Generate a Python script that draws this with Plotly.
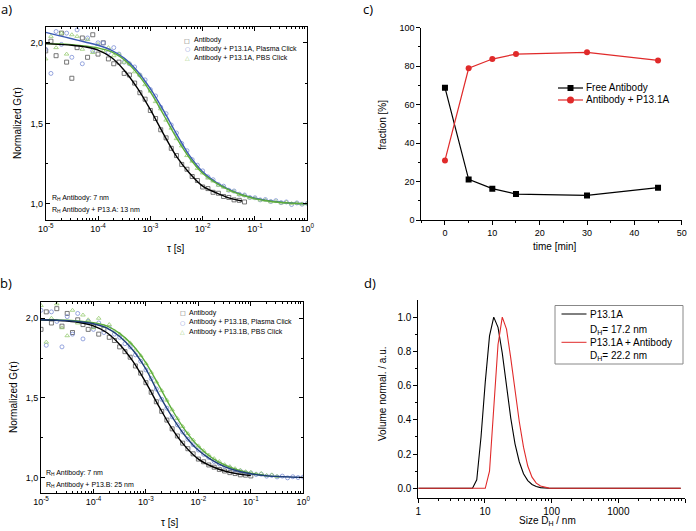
import plotly.graph_objects as go

W, H = 696, 531


def px(x):
    return x / W


def py(y):
    return 1 - y / H


# ---- FCS data (panels a and b) ----
# lag times of the measured points, 10 per decade
TAU_PTS = [
    1.00e-5, 1.26e-5, 1.58e-5, 2.00e-5, 2.51e-5, 3.16e-5, 3.98e-5, 5.01e-5, 6.31e-5, 7.94e-5,
    1.00e-4, 1.26e-4, 1.58e-4, 2.00e-4, 2.51e-4, 3.16e-4, 3.98e-4, 5.01e-4, 6.31e-4, 7.94e-4,
    1.00e-3, 1.26e-3, 1.58e-3, 2.00e-3, 2.51e-3, 3.16e-3, 3.98e-3, 5.01e-3, 6.31e-3, 7.94e-3,
    1.00e-2, 1.26e-2, 1.58e-2, 2.00e-2, 2.51e-2, 3.16e-2, 3.98e-2, 5.01e-2, 6.31e-2, 7.94e-2,
    1.00e-1, 1.26e-1, 1.58e-1, 2.00e-1, 2.51e-1, 3.16e-1, 3.98e-1, 5.01e-1, 6.31e-1, 7.94e-1,
    1.00,
]
# lag times of the fit curves
TAU_FIT = [
    1.00e-5, 1.78e-5, 3.16e-5, 5.62e-5,
    1.00e-4, 1.78e-4, 3.16e-4, 5.62e-4,
    1.00e-3, 1.78e-3, 3.16e-3, 5.62e-3,
    1.00e-2, 1.78e-2, 3.16e-2, 5.62e-2,
    1.00e-1, 1.78e-1, 3.16e-1, 5.62e-1,
    1.00,
]

PTS_A_ANTIBODY = [
    1.95, 2.01, 1.92, 2.06, 1.88, 1.78, 1.97, 2.03, 1.91, 2.05,
    1.93, 2.00, 1.90, 1.87, 1.88, 1.81, 1.80, 1.75, 1.69, 1.65,
    1.58, 1.53, 1.46, 1.41, 1.345, 1.30, 1.245, 1.215, 1.17, 1.145,
    1.105, 1.095, 1.072, 1.066, 1.046, 1.04, 1.025, 1.022, 1.012,
]
PTS_A_PLASMA = [
    1.96, 1.81, 2.07, 1.99, 2.06, 1.91, 2.08, 1.87, 2.03, 1.95,
    2.00, 2.00, 1.94, 1.97, 1.93, 1.88, 1.87, 1.85, 1.80, 1.77,
    1.71, 1.67, 1.60, 1.56, 1.49, 1.44, 1.375, 1.33, 1.275, 1.24,
    1.205, 1.168, 1.15, 1.12, 1.11, 1.085, 1.08, 1.06, 1.055, 1.04,
    1.038, 1.025, 1.027, 1.015, 1.02, 1.008, 1.012, 0.996, 1.006, 0.998,
    1.003,
]
PTS_A_PBS = [
    1.90, 2.04, 1.97, 2.06, 1.93, 2.05, 2.04, 1.96, 2.02, 1.94,
    1.99, 1.95, 1.97, 1.92, 1.93, 1.88, 1.87, 1.82, 1.80, 1.74,
    1.70, 1.635, 1.59, 1.52, 1.47, 1.405, 1.36, 1.30, 1.265, 1.22,
    1.192, 1.16, 1.142, 1.116, 1.104, 1.083, 1.076, 1.058, 1.052, 1.038,
    1.035, 1.024, 1.023, 1.013, 1.015, 1.006, 1.01, 1.002, 1.005, 0.999,
    1.002,
]
FIT_A_ANTIBODY = [1.995, 1.99, 1.985, 1.975, 1.955, 1.91, 1.83, 1.72, 1.585, 1.435,
                  1.295, 1.19, 1.11, 1.07, 1.037, 1.018]
FIT_A_PLASMA = [2.065, 2.045, 2.025, 2.005, 1.985, 1.955, 1.905, 1.825, 1.715, 1.58,
                1.435, 1.30, 1.20, 1.135, 1.09, 1.057, 1.035, 1.02, 1.01, 1.004, 1.0]
FIT_A_PBS = [1.995, 1.993, 1.988, 1.98, 1.968, 1.945, 1.895, 1.81, 1.695, 1.555,
             1.41, 1.285, 1.19, 1.13, 1.087, 1.055, 1.033, 1.018, 1.009, 1.004, 1.0]

PTS_B_ANTIBODY = [
    1.93, 2.04, 1.97, 2.06, 1.95, 2.03, 1.91, 1.99, 1.96, 1.93,
    1.95, 1.90, 1.93, 1.88, 1.86, 1.82, 1.79, 1.755, 1.70, 1.655,
    1.595, 1.535, 1.475, 1.415, 1.36, 1.305, 1.26, 1.215, 1.18, 1.148,
    1.115, 1.098, 1.078, 1.064, 1.05, 1.04, 1.03, 1.024, 1.016, 1.014,
    1.009,
]
PTS_B_PLASMA = [
    2.05, 1.83, 2.04, 1.98, 1.82, 2.01, 1.90, 2.03, 1.87, 1.98,
    1.93, 1.97, 1.91, 1.94, 1.90, 1.88, 1.84, 1.82, 1.77, 1.73,
    1.675, 1.62, 1.555, 1.49, 1.435, 1.38, 1.33, 1.285, 1.24, 1.205,
    1.172, 1.145, 1.125, 1.10, 1.085, 1.07, 1.06, 1.045, 1.04, 1.03,
    1.027, 1.018, 1.02, 1.008, 1.012, 1.003, 1.008, 0.997, 1.004, 0.999,
    1.002,
]
PTS_B_PBS = [
    2.08, 1.85, 2.00, 2.09, 1.94, 1.89, 2.05, 1.97, 2.02, 1.99,
    1.94, 2.00, 1.95, 1.96, 1.92, 1.90, 1.87, 1.845, 1.80, 1.765,
    1.715, 1.66, 1.60, 1.545, 1.485, 1.425, 1.37, 1.32, 1.275, 1.235,
    1.198, 1.168, 1.14, 1.118, 1.10, 1.08, 1.068, 1.055, 1.045, 1.036,
    1.032, 1.022, 1.025, 1.012, 1.016, 1.006,
]
FIT_B_ANTIBODY = [1.99, 1.987, 1.982, 1.972, 1.952, 1.91, 1.835, 1.73, 1.595, 1.445,
                  1.305, 1.195, 1.115, 1.07, 1.04, 1.022, 1.012]
FIT_B_PLASMA = [1.99, 1.988, 1.985, 1.978, 1.965, 1.94, 1.885, 1.80, 1.68, 1.52,
                1.38, 1.26, 1.17, 1.11, 1.068, 1.04, 1.023, 1.012, 1.006, 1.002, 1.0]
FIT_B_PBS = [1.99, 1.989, 1.987, 1.982, 1.972, 1.952, 1.905, 1.83, 1.72, 1.575,
             1.425, 1.295, 1.195, 1.125, 1.078, 1.047, 1.027, 1.014]

# ---- panel c: binding kinetics ----
TIME_MIN = [0, 5, 10, 15, 30, 45]
FREE_AB = [68.8, 21.1, 16.3, 13.5, 12.8, 16.8]
BOUND_AB = [31.0, 78.9, 83.7, 86.3, 87.2, 83.0]

# ---- panel d: DLS volume distributions ----
SIZE_P131A = [1.0, 6.503, 7.531, 8.721, 10.1, 11.7, 13.54, 15.69, 18.17, 21.04, 24.36,
              28.21, 32.67, 37.84, 43.82, 50.75, 58.77, 68.06, 78.82, 91.28, 8635]
VOL_P131A = [0.0, 0.0, 0.05, 0.30, 0.62, 0.89, 1.0, 0.94, 0.79, 0.59, 0.41,
             0.26, 0.155, 0.085, 0.045, 0.022, 0.01, 0.004, 0.001, 0.0, 0.0]
SIZE_P131A_AB = [1.0, 10.1, 11.7, 13.54, 15.69, 18.17, 21.04, 24.36, 28.21, 32.67,
                 37.84, 43.82, 50.75, 58.77, 68.06, 78.82, 91.28, 105.7, 8635]
VOL_P131A_AB = [0.0, 0.0, 0.10, 0.45, 0.84, 1.0, 0.93, 0.76, 0.57, 0.39,
                0.24, 0.13, 0.065, 0.03, 0.013, 0.005, 0.001, 0.0, 0.0]

FCS_TICKS = [1e-5, 1e-4, 1e-3, 1e-2, 1e-1, 1]
FCS_TICKTEXT = ["10<sup>-5</sup>", "10<sup>-4</sup>", "10<sup>-3</sup>",
                "10<sup>-2</sup>", "10<sup>-1</sup>", "10<sup>0</sup>"]
FCS_MINOR = [m * 10 ** e for e in range(-5, 0) for m in range(2, 10)]
DLS_TICKS = [1, 10, 100, 1000, 10000]
DLS_MINOR = [m * 10 ** e for e in range(0, 4) for m in range(2, 10)]

FONT = "Liberation Sans, Arial, sans-serif"
GRAY = "#555555"
LIGHTBLUE = "#7c8fd6"
LIGHTGREEN = "#98cc74"
BLUE_A = "#3b5bb5"
NAVY_B = "#1f3f7a"
GREEN = "#5dae3a"
RED = "#e02a2a"

fig = go.Figure()


def fcs_panel(xa, ya, pts, fits, fit_colors):
    symbols = ["square-open", "circle-open", "triangle-up-open"]
    colors = [GRAY, LIGHTBLUE, LIGHTGREEN]
    for vals, sym, col in zip(pts, symbols, colors):
        fig.add_trace(go.Scatter(
            x=TAU_PTS[:len(vals)], y=vals, mode="markers", xaxis=xa, yaxis=ya,
            marker=dict(symbol=sym, size=4, color=col, line=dict(width=0.8, color=col)),
            showlegend=False, hoverinfo="skip"))
    for vals, col in zip(fits, fit_colors):
        fig.add_trace(go.Scatter(
            x=TAU_FIT[:len(vals)], y=vals, mode="lines", xaxis=xa, yaxis=ya,
            line=dict(color=col, width=1.4, shape="spline", smoothing=1.0),
            showlegend=False, hoverinfo="skip"))


fcs_panel("x", "y", [PTS_A_ANTIBODY, PTS_A_PLASMA, PTS_A_PBS],
          [FIT_A_PLASMA, FIT_A_PBS, FIT_A_ANTIBODY], [BLUE_A, GREEN, "black"])
fcs_panel("x3", "y3", [PTS_B_ANTIBODY, PTS_B_PLASMA, PTS_B_PBS],
          [FIT_B_PBS, FIT_B_ANTIBODY, FIT_B_PLASMA], [GREEN, "black", NAVY_B])

# panel c
fig.add_trace(go.Scatter(x=TIME_MIN, y=FREE_AB, mode="lines+markers", xaxis="x2", yaxis="y2",
                         line=dict(color="black", width=1.2),
                         marker=dict(symbol="square", size=6, color="black"),
                         showlegend=False))
fig.add_trace(go.Scatter(x=TIME_MIN, y=BOUND_AB, mode="lines+markers", xaxis="x2", yaxis="y2",
                         line=dict(color=RED, width=1.2),
                         marker=dict(symbol="circle", size=6, color=RED),
                         showlegend=False))

# panel d
fig.add_trace(go.Scatter(x=SIZE_P131A, y=VOL_P131A, mode="lines", xaxis="x4", yaxis="y4",
                         line=dict(color="black", width=1.1), showlegend=False))
fig.add_trace(go.Scatter(x=SIZE_P131A_AB, y=VOL_P131A_AB, mode="lines", xaxis="x4", yaxis="y4",
                         line=dict(color=RED, width=1.1), showlegend=False))

box_axis = dict(showline=True, linecolor="black", linewidth=1, mirror="ticks", ticks="inside",
                ticklen=4, tickwidth=1, tickcolor="black", showgrid=False, zeroline=False,
                automargin=False, tickfont=dict(size=9, color="black"))
open_axis = dict(showline=True, linecolor="black", linewidth=1, ticks="outside",
                 ticklen=4, tickwidth=1, tickcolor="black", showgrid=False, zeroline=False,
                 automargin=False)

fcs_x = dict(box_axis, type="log", range=[-5, 0], tickmode="array", tickvals=FCS_TICKS,
             ticktext=FCS_TICKTEXT,
             minor=dict(tickmode="array", tickvals=FCS_MINOR, ticks="inside", ticklen=2,
                        tickcolor="black", showgrid=False))
fcs_y = dict(box_axis, range=[0.9, 2.1], tickmode="array", tickvals=[1.0, 1.5, 2.0],
             ticktext=["1,0", "1,5", "2,0"],
             minor=dict(tickmode="array", tickvals=[1.25, 1.75], ticks="inside", ticklen=2,
                        tickcolor="black", showgrid=False))

fig.update_layout(
    width=W, height=H, margin=dict(l=0, r=0, t=0, b=0, autoexpand=False),
    paper_bgcolor="white", plot_bgcolor="white",
    font=dict(family=FONT, color="black"),
    xaxis=dict(fcs_x, domain=[px(45.7), px(307.3)], anchor="y"),
    yaxis=dict(fcs_y, domain=[py(220), py(26.7)], anchor="x"),
    xaxis3=dict(fcs_x, domain=[px(41), px(303.3)], anchor="y3"),
    yaxis3=dict(fcs_y, domain=[py(493.3), py(302.3)], anchor="x3"),
    xaxis2=dict(open_axis, domain=[px(421.3), px(681.7)], anchor="y2", range=[-5, 50],
                tickmode="array", tickvals=[0, 10, 20, 30, 40, 50],
                tickfont=dict(size=9, color="black"),
                minor=dict(dtick=5, tick0=0, ticks="outside", ticklen=2, tickcolor="black")),
    yaxis2=dict(open_axis, domain=[py(220), py(27.7)], anchor="x2", range=[0, 100],
                tickmode="array", tickvals=[0, 20, 40, 60, 80, 100],
                tickfont=dict(size=9, color="black"),
                minor=dict(dtick=10, tick0=0, ticks="outside", ticklen=2, tickcolor="black")),
    xaxis4=dict(open_axis, domain=[px(418.3), px(685)], anchor="y4", type="log", range=[0, 4],
                tickmode="array", tickvals=DLS_TICKS, ticktext=[str(t) for t in DLS_TICKS],
                tickfont=dict(size=10, color="black"),
                minor=dict(tickmode="array", tickvals=DLS_MINOR, ticks="outside", ticklen=2,
                           tickcolor="black")),
    yaxis4=dict(open_axis, domain=[py(497.7), py(300)], anchor="x4", range=[-0.055, 1.1],
                tickmode="array", tickvals=[0, 0.2, 0.4, 0.6, 0.8, 1.0],
                ticktext=["0.0", "0.2", "0.4", "0.6", "0.8", "1.0"],
                tickfont=dict(size=10, color="black"),
                minor=dict(tickmode="array", tickvals=[0.1, 0.3, 0.5, 0.7, 0.9],
                           ticks="outside", ticklen=2, tickcolor="black")),
)

ann = []


def text(x, y, s, size, anchor="center", angle=0, color="black", family=FONT):
    ann.append(dict(x=px(x), y=py(y), xref="paper", yref="paper", text=s, showarrow=False,
                    xanchor=anchor, yanchor="middle", textangle=angle, borderpad=0,
                    font=dict(size=size, color=color, family=family)))


# panel labels
for lab, x, y in [("a)", 6, 9), ("c)", 368, 9), ("b)", 6, 283), ("d)", 370, 283)]:
    text(x, y, lab, 13, family="Open Sans, DejaVu Sans, sans-serif")

# axis titles
text(18, 123, "Normalized G(τ)", 10, angle=-90)
text(176, 248, "τ [s]", 10)
text(13, 397, "Normalized G(τ)", 10, angle=-90)
text(170, 522, "τ [s]", 10)
text(382, 125, "fraction [%]", 10, angle=-90)
text(555, 247, "time [min]", 10)
text(382, 394, "Volume normal. / a.u.", 10, angle=-90)
text(547, 521, "Size D<sub>H</sub> / nm", 10)

# panel a legend and notes
for i, (glyph, col, lab) in enumerate([("□", GRAY, "Antibody"),
                                       ("○", LIGHTBLUE, "Antibody + P13.1A, Plasma Click"),
                                       ("△", LIGHTGREEN, "Antibody + P13.1A, PBS Click")]):
    text(187, 40 + i * 8.8, glyph, 6, color=col, family="DejaVu Sans")
    text(193, 40 + i * 8.8, lab, 7, anchor="left")
text(50.5, 198, "R<sub>H</sub> Antibody: 7 nm", 7, anchor="left")
text(50.5, 209.5, "R<sub>H</sub> Antibody + P13.A: 13 nm", 7, anchor="left")

# panel b legend and notes
for i, (glyph, col, lab) in enumerate([("□", GRAY, "Antibody"),
                                       ("○", LIGHTBLUE, "Antibody + P13.1B, Plasma Click"),
                                       ("△", LIGHTGREEN, "Antibody + P13.1B, PBS Click")]):
    text(182.5, 312.7 + i * 9.5, glyph, 6, color=col, family="DejaVu Sans")
    text(188, 312.7 + i * 9.5, lab, 7, anchor="left")
text(45, 473, "R<sub>H</sub> Antibody: 7 nm", 7, anchor="left")
text(45, 485, "R<sub>H</sub> Antibody + P13.B: 25 nm", 7, anchor="left")

# panel c legend
shapes = []
shapes.append(dict(type="line", xref="paper", yref="paper", x0=px(558), x1=px(583),
                   y0=py(88), y1=py(88), line=dict(color="black", width=1.2)))
shapes.append(dict(type="rect", xref="paper", yref="paper", x0=px(567.5), x1=px(573.5),
                   y0=py(91), y1=py(85), fillcolor="black", line=dict(width=0)))
shapes.append(dict(type="line", xref="paper", yref="paper", x0=px(558), x1=px(583),
                   y0=py(100), y1=py(100), line=dict(color=RED, width=1.2)))
shapes.append(dict(type="circle", xref="paper", yref="paper", x0=px(567), x1=px(574),
                   y0=py(103.5), y1=py(96.5), fillcolor=RED, line=dict(width=0)))
text(585, 88, "Free Antibody", 10, anchor="left")
text(585, 100, "Antibody + P13.1A", 10, anchor="left")

# panel d legend
shapes.append(dict(type="rect", xref="paper", yref="paper", x0=px(555), x1=px(683),
                   y0=py(364), y1=py(305.5), line=dict(color="#888888", width=1),
                   fillcolor="white", layer="above"))
shapes.append(dict(type="line", xref="paper", yref="paper", x0=px(561.5), x1=px(586.5),
                   y0=py(314), y1=py(314), line=dict(color="black", width=1)))
shapes.append(dict(type="line", xref="paper", yref="paper", x0=px(561.5), x1=px(586.5),
                   y0=py(342.3), y1=py(342.3), line=dict(color=RED, width=1)))
text(589, 314, "P13.1A", 10, anchor="left")
text(589, 330.5, "D<sub>H</sub>= 17.2 nm", 10, anchor="left")
text(589, 342.3, "P13.1A + Antibody", 10, anchor="left")
text(589, 355.7, "D<sub>H</sub>= 22.2 nm", 10, anchor="left")

fig.update_layout(annotations=ann, shapes=shapes)

# the page body has a default margin; drop it so the figure fills the window exactly
fig.write_html("out.html", config={"displayModeBar": False},
               post_script="document.body.style.margin = '0';")
